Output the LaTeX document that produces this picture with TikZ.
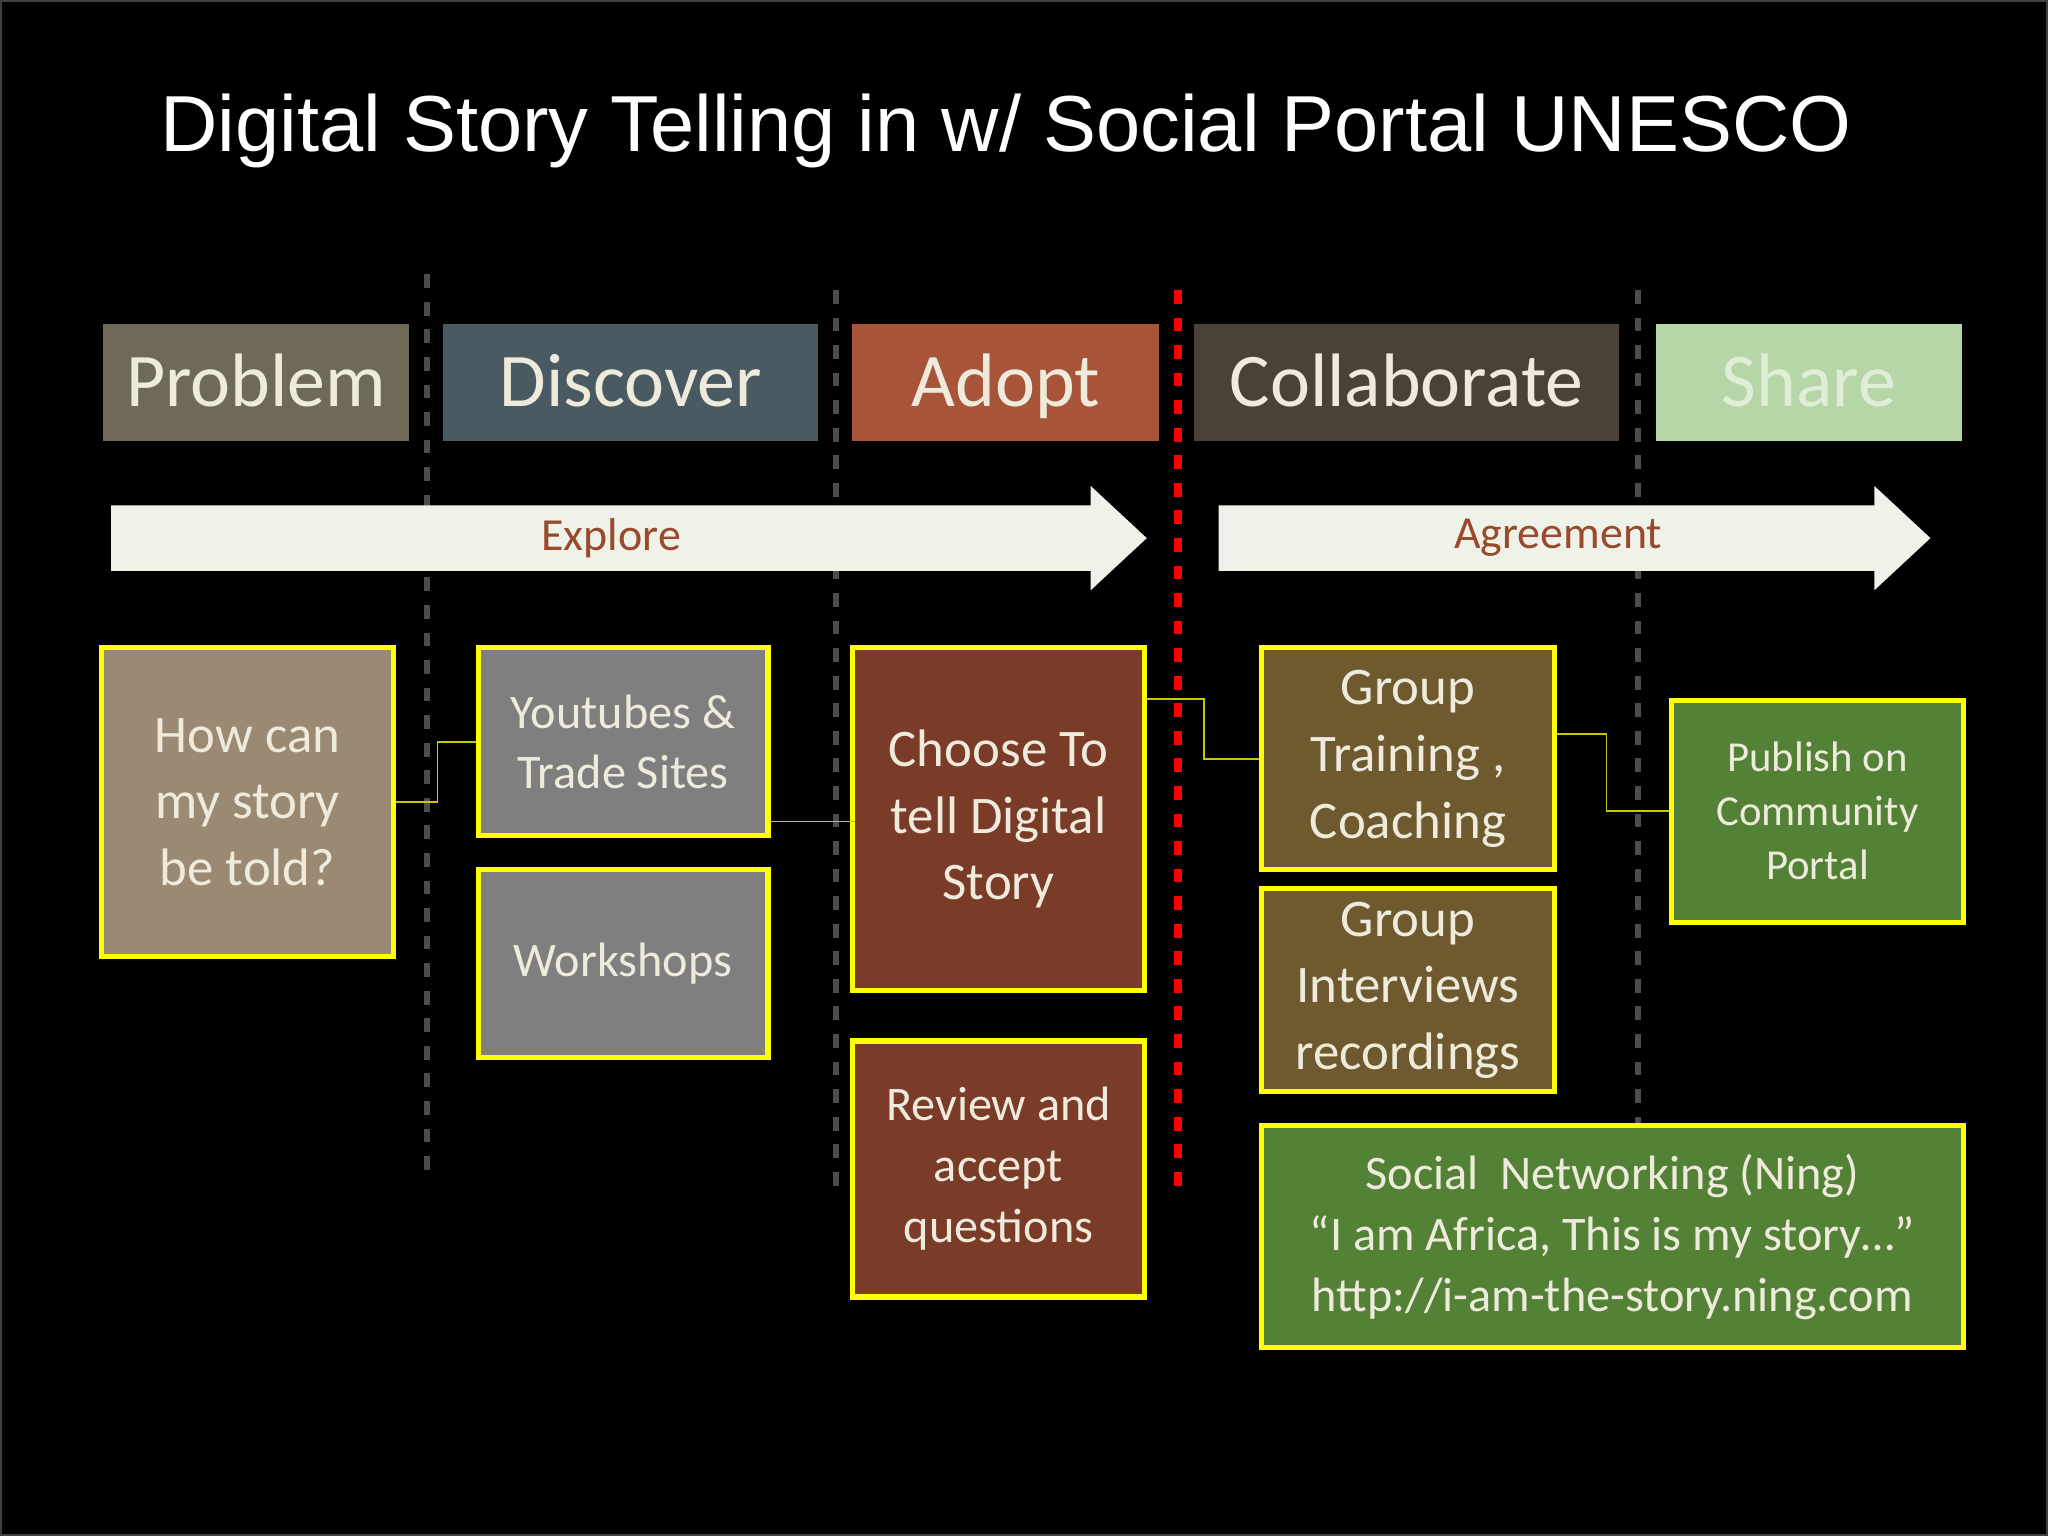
\documentclass[tikz,border=0pt]{standalone}
\usepackage{fontspec}
\setmainfont{Carlito}
\newfontfamily\titlefont{Liberation Sans}
\definecolor{ylw}{HTML}{FFFF00}
\definecolor{lnk}{HTML}{C8C800}
\definecolor{txt}{HTML}{EEEBDD}
\definecolor{arr}{HTML}{EEF2E8}
\tikzset{
 hdr/.style={minimum width=#1*0.01cm, minimum height=0.9cm, inner sep=0, font=\fontsize{16.5}{16.5}\selectfont, text=txt, text depth=0.25ex},
 wd/.style={minimum width=#1*0.01cm},
 ht/.style={minimum height=#1*0.01cm},
 box/.style={draw=ylw, line width=1.1pt, text=txt, align=center, inner sep=0},
 lnkline/.style={draw=lnk, line width=0.4pt},
 sep/.style={draw=gray!60!black, dashed, line width=1.2pt},
}
\begin{document}
\begin{tikzpicture}[x=0.01cm,y=-0.01cm]
\useasboundingbox (0,0) rectangle (1568,1176);
\fill[black] (0,0) rectangle (1568,1176);
\draw[gray!50!black,line width=1pt] (0,0) rectangle (1568,1176);
\node[text=white,font=\titlefont\fontsize{17.3}{18}\selectfont,anchor=west,inner sep=0] (title) at (122,100) {Digital Story Telling in w/ Social Portal UNESCO};
% separators
\draw[sep] (327,210) -- (327,900);
\draw[sep] (640,222) -- (640,912);
\draw[sep] (1254,222) -- (1254,900);
\draw[red,dashed,line width=1.6pt] (902,222) -- (902,912);
% headers
\node[hdr=234, fill={rgb,255:red,111;green,106;blue,87}] (p) at (196,293) {Problem};
\node[hdr=287, fill={rgb,255:red,74;green,90;blue,99}] (d) at (483,293) {Discover};
\node[hdr=235, fill={rgb,255:red,168;green,84;blue,56}] (a) at (770,293) {Adopt};
\node[hdr=325, fill={rgb,255:red,74;green,66;blue,54}] (c) at (1077,293) {Collaborate};
\node[hdr=235, fill={rgb,255:red,183;green,214;blue,168}, text={rgb,255:red,225;green,238;blue,215}] (s) at (1385,293) {Share};
% arrows
\fill[arr] (85,387) -- (835,387) -- (835,372) -- (878,412) -- (835,452) -- (835,437) -- (85,437) -- cycle;
\node[text={rgb,255:red,154;green,74;blue,44},font=\fontsize{10}{10}\selectfont] (ex) at (468,412) {Explore};
\fill[arr] (933,387) -- (1435,387) -- (1435,372) -- (1478,412) -- (1435,452) -- (1435,437) -- (933,437) -- cycle;
\node[text={rgb,255:red,154;green,74;blue,44},font=\fontsize{10}{10}\selectfont] (ag) at (1193,412) {Agreement};
% boxes
\node[box, fill={rgb,255:red,155;green,138;blue,115}, wd=223, ht=236, font=\fontsize{11.5}{14.5}\selectfont] (how) at (189.5,614) {How can\\my story\\be told?};
\node[box, fill={rgb,255:red,127;green,127;blue,127}, wd=222, ht=144, font=\fontsize{10.5}{13}\selectfont] (yt) at (477,568) {Youtubes \&\\Trade Sites};
\node[box, fill={rgb,255:red,127;green,127;blue,127}, wd=222, ht=144, font=\fontsize{10.5}{13}\selectfont] (ws) at (477,738) {Workshops};
\node[box, fill={rgb,255:red,122;green,59;blue,40}, wd=223, ht=262, font=\fontsize{11.5}{14.5}\selectfont] (ch) at (764.5,627) {Choose To\\tell Digital\\Story};
\node[box, fill={rgb,255:red,122;green,59;blue,40}, wd=223, ht=196, font=\fontsize{10.5}{13.3}\selectfont] (rv) at (764.5,895) {Review and\\accept\\questions};
\node[box, fill={rgb,255:red,110;green,90;blue,46}, wd=224, ht=170, font=\fontsize{11.5}{14.5}\selectfont] (gt) at (1078,581) {Group\\Training ,\\Coaching};
\node[box, fill={rgb,255:red,110;green,90;blue,46}, wd=224, ht=156, font=\fontsize{11.5}{14.5}\selectfont] (gi) at (1078,758) {Group\\Interviews\\recordings};
\node[box, fill={rgb,255:red,83;green,129;blue,53}, wd=223, ht=170, font=\fontsize{9.3}{11.8}\selectfont] (pub) at (1391.5,621) {Publish on\\Community\\Portal};
\node[box, fill={rgb,255:red,83;green,129;blue,53}, wd=537, ht=170, font=\fontsize{10.5}{13.3}\selectfont] (sn) at (1234.5,947) {Social\ \ Networking (Ning)\\“I am Africa, This is my story…”\\http://i-am-the-story.ning.com};
% connectors
\draw[lnkline] (how.east) -- ++(32,0) |- (yt.west);
\draw[lnkline] (yt.south east) ++(0,-13) -- ++(65,0);
\draw[lnkline] (ch.north east) ++(0,41) -- ++(44,0) |- (gt.west);
\draw[lnkline] (gt.east) ++(0,-19) -- ++(38,0) |- (pub.west);
\end{tikzpicture}
\end{document}
